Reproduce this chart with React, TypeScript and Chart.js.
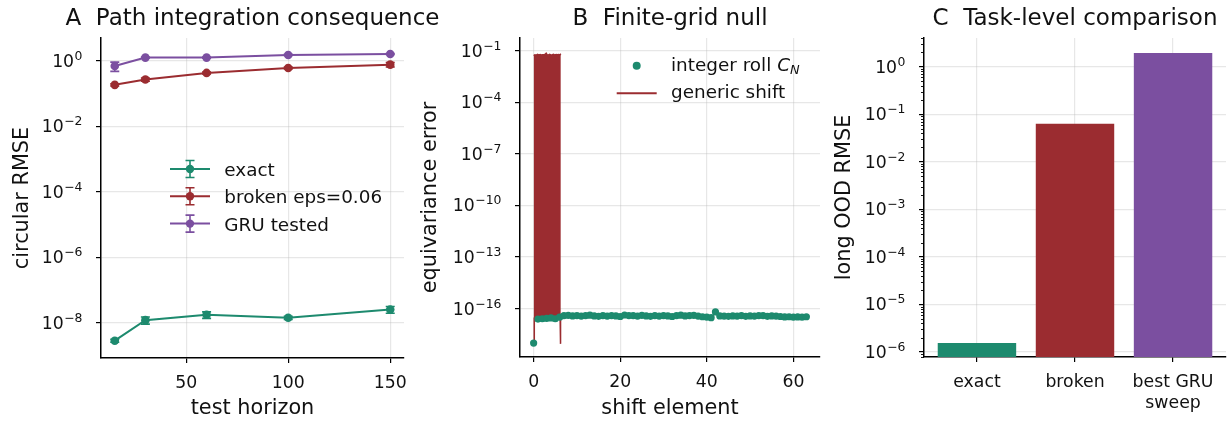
import React, { useEffect, useRef } from 'react';
import { Chart, registerables } from 'chart.js';

Chart.register(...registerables);

const FONT = '"DejaVu Sans", "Liberation Sans", sans-serif';
const GREEN = '#1d8a6e';
const RED = '#9b2c30';
const PURPLE = '#7b4fa0';
const GRID = 'rgba(176,176,176,0.3)';
const TEXT = '#111111';

// ---------------- Panel A: path integration consequence ----------------
const horizons = [15, 30, 60, 100, 150];
const exactRmse = [2.9e-9, 1.23e-8, 1.79e-8, 1.45e-8, 2.6e-8];
const exactErr = [3e-10, 3e-9, 4e-9, 1.5e-9, 6e-9];
const brokenRmse = [0.186, 0.27, 0.43, 0.61, 0.77];
const brokenErr = [0.015, 0.03, 0.03, 0.04, 0.12];
const gruRmse = [0.7, 1.26, 1.26, 1.52, 1.63];
const gruErr = [0.22, 0.06, 0.05, 0.06, 0.06];
const aSeriesLabels = ['exact', 'broken eps=0.06', 'GRU tested'];
const aXTicks = [50, 100, 150];
const aXTickLabels = ['50', '100', '150'];
const aYTicks = [1e-8, 1e-6, 1e-4, 1e-2, 1];
const aYTickExponents = ['−8', '−6', '−4', '−2', '0'];

// ---------------- Panel B: finite-grid null ----------------
const shiftElements = [
  0, 1, 2, 3, 4, 5, 6, 7, 8, 9, 10, 11, 12, 13, 14, 15,
  16, 17, 18, 19, 20, 21, 22, 23, 24, 25, 26, 27, 28, 29, 30, 31,
  32, 33, 34, 35, 36, 37, 38, 39, 40, 41, 42, 43, 44, 45, 46, 47,
  48, 49, 50, 51, 52, 53, 54, 55, 56, 57, 58, 59, 60, 61, 62, 63,
];
const integerRollError = [
  1.0e-18, 2.5e-17, 2.6e-17, 2.7e-17, 2.9e-17, 2.6e-17, 3.2e-17, 3.9e-17,
  4.1e-17, 3.8e-17, 4.0e-17, 3.7e-17, 3.9e-17, 4.2e-17, 3.8e-17, 3.6e-17,
  3.9e-17, 3.7e-17, 4.0e-17, 3.8e-17, 3.5e-17, 4.3e-17, 4.0e-17, 3.9e-17,
  3.7e-17, 4.1e-17, 3.8e-17, 3.6e-17, 3.9e-17, 3.7e-17, 4.0e-17, 3.8e-17,
  3.5e-17, 3.9e-17, 4.2e-17, 3.8e-17, 4.0e-17, 4.1e-17, 3.7e-17, 3.4e-17,
  3.2e-17, 3.0e-17, 6.5e-17, 3.8e-17, 3.7e-17, 3.6e-17, 3.8e-17, 3.7e-17,
  3.9e-17, 3.6e-17, 3.8e-17, 3.7e-17, 3.9e-17, 4.0e-17, 3.6e-17, 3.8e-17,
  3.7e-17, 3.5e-17, 3.3e-17, 3.4e-17, 3.2e-17, 3.3e-17, 3.2e-17, 3.4e-17,
];
// generic (continuous) shift: dense oscillation drawn as its upper and lower envelope
const genericShiftX = [0, 0.3, 0.6, 0.9, 1.2, 1.5, 1.8, 2.1, 2.4, 2.7, 2.9, 3.1, 3.4, 3.7, 4.0, 4.3, 4.6, 4.9, 5.2, 5.5, 5.8, 6.05, 6.28];
const genericShiftTop = [0.052, 0.058, 0.055, 0.061, 0.057, 0.06, 0.056, 0.059, 0.058, 0.063, 0.072, 0.06, 0.055, 0.061, 0.057, 0.059, 0.062, 0.056, 0.06, 0.058, 0.06, 0.057, 0.066];
const genericFloorX = [0, 0.12, 0.15, 6.12, 6.15, 6.28];
const genericFloor = [9e-19, 9e-19, 2.8e-17, 2.8e-17, 9e-19, 9e-19];
const bXTicks = [0, 20, 40, 60];
const bXTickLabels = ['0', '20', '40', '60'];
const bYTicks = [1e-16, 1e-13, 1e-10, 1e-7, 1e-4, 1e-1];
const bYTickExponents = ['−16', '−13', '−10', '−7', '−4', '−1'];

// ---------------- Panel C: task-level comparison ----------------
const methods = ['exact', 'broken', 'best GRU\nsweep'];
const longOodRmse = [1.55e-6, 0.063, 1.94];
const methodColors = [GREEN, RED, PURPLE];
const cXTicks = [0, 1, 2];
const cYTicks = [1e-6, 1e-5, 1e-4, 1e-3, 1e-2, 1e-1, 1];
const cYTickExponents = ['−6', '−5', '−4', '−3', '−2', '−1', '0'];

const W = 1231;
const H = 425;
const TICK_SIZE = 17.3;
const SUP_SIZE = 12.4;
const TICK_FONT = { family: FONT, size: TICK_SIZE };
const LABEL_FONT = { family: FONT, size: 20.8 };

function fixSize(horizontal: boolean, size: number) {
  return (scale: any) => {
    if (horizontal) scale.height = size;
    else scale.width = size;
    scale.paddingLeft = 0;
    scale.paddingRight = 0;
    scale.paddingTop = 0;
    scale.paddingBottom = 0;
  };
}

function setTicks(values: number[]) {
  return (scale: any) => {
    scale.ticks = values.map((v) => ({ value: v }));
  };
}

function gridOpts() {
  return {
    color: GRID,
    lineWidth: 1.2,
    drawTicks: true,
    tickLength: 5,
    tickColor: '#000',
    tickWidth: 1.2,
    offset: false,
  };
}

function drawText(ctx: CanvasRenderingContext2D, text: string, x: number, y: number, size: number, align: CanvasTextAlign = 'left', style = 'normal') {
  ctx.save();
  ctx.font = `${style} ${size}px ${FONT}`;
  ctx.fillStyle = TEXT;
  ctx.textAlign = align;
  ctx.textBaseline = 'alphabetic';
  ctx.fillText(text, x, y);
  ctx.restore();
}

function measure(ctx: CanvasRenderingContext2D, text: string, size: number, style = 'normal') {
  ctx.save();
  ctx.font = `${style} ${size}px ${FONT}`;
  const w = ctx.measureText(text).width;
  ctx.restore();
  return w;
}

function titlePlugin(text: string) {
  return {
    id: 'panelTitle',
    afterDraw(chart: any) {
      const { left, right } = chart.chartArea;
      drawText(chart.ctx, text, (left + right) / 2, 25, 23, 'center');
    },
  };
}

// y tick labels written as 10 with a raised exponent (like mathtext)
function powerLabelPlugin(exponents: string[]) {
  return {
    id: 'powerLabels',
    afterDraw(chart: any) {
      const ctx = chart.ctx;
      const ys = chart.scales.y;
      const right = chart.chartArea.left - 18.5;
      ys.ticks.forEach((t: any, i: number) => {
        const py = ys.getPixelForValue(t.value);
        const base = py + 5.9;
        const exp = exponents[i];
        const wSup = measure(ctx, exp, SUP_SIZE);
        const wMain = measure(ctx, '10', TICK_SIZE);
        drawText(ctx, '10', right - wSup - wMain - 0.5, base, TICK_SIZE);
        drawText(ctx, exp, right - wSup, base - 7, SUP_SIZE);
      });
    },
  };
}

const errorBarPlugin = {
  id: 'errorBars',
  beforeDatasetsDraw(chart: any) {
    const ctx = chart.ctx;
    const xs = chart.scales.x;
    const ys = chart.scales.y;
    chart.data.datasets.forEach((ds: any) => {
      if (!ds.errors) return;
      ctx.save();
      ctx.strokeStyle = ds.borderColor;
      ctx.lineWidth = 1.6;
      ds.data.forEach((pt: any, i: number) => {
        const e = ds.errors[i];
        const px = xs.getPixelForValue(pt.x);
        const top = ys.getPixelForValue(pt.y + e);
        const bot = ys.getPixelForValue(Math.max(pt.y - e, ys.min * 0.5));
        ctx.beginPath();
        ctx.moveTo(px, top);
        ctx.lineTo(px, bot);
        ctx.moveTo(px - 4.5, top);
        ctx.lineTo(px + 4.5, top);
        ctx.moveTo(px - 4.5, bot);
        ctx.lineTo(px + 4.5, bot);
        ctx.stroke();
      });
      ctx.restore();
    });
  },
};

const legendAPlugin = {
  id: 'legendA',
  afterDraw(chart: any) {
    const ctx = chart.ctx;
    const colors = [GREEN, RED, PURPLE];
    aSeriesLabels.forEach((label, i) => {
      const y = 169 + i * 27.3;
      ctx.save();
      ctx.strokeStyle = colors[i];
      ctx.fillStyle = colors[i];
      ctx.lineWidth = 2;
      ctx.beginPath();
      ctx.moveTo(170, y);
      ctx.lineTo(210, y);
      ctx.stroke();
      ctx.lineWidth = 1.6;
      ctx.beginPath();
      ctx.moveTo(190, y - 8.5);
      ctx.lineTo(190, y + 8.5);
      ctx.moveTo(185.5, y - 8.5);
      ctx.lineTo(194.5, y - 8.5);
      ctx.moveTo(185.5, y + 8.5);
      ctx.lineTo(194.5, y + 8.5);
      ctx.stroke();
      ctx.beginPath();
      ctx.arc(190, y, 4.2, 0, Math.PI * 2);
      ctx.fill();
      ctx.restore();
      drawText(ctx, label, 224.3, y + 7, 18.4);
    });
  },
};

const legendBPlugin = {
  id: 'legendB',
  afterDraw(chart: any) {
    const ctx = chart.ctx;
    ctx.save();
    ctx.fillStyle = GREEN;
    ctx.beginPath();
    ctx.arc(636.7, 65.7, 4, 0, Math.PI * 2);
    ctx.fill();
    ctx.strokeStyle = RED;
    ctx.lineWidth = 2;
    ctx.beginPath();
    ctx.moveTo(616.7, 93.3);
    ctx.lineTo(656.7, 93.3);
    ctx.stroke();
    ctx.restore();
    const base1 = 70.7;
    const w1 = measure(ctx, 'integer roll ', 18.4);
    const w2 = measure(ctx, 'C', 18.4, 'italic');
    drawText(ctx, 'integer roll ', 671, base1, 18.4);
    drawText(ctx, 'C', 671 + w1, base1, 18.4, 'left', 'italic');
    drawText(ctx, 'N', 671 + w1 + w2, base1 + 3.5, 12.9, 'left', 'italic');
    drawText(ctx, 'generic shift', 671, 98.3, 18.4);
  },
};

const minorTickPlugin = {
  id: 'minorTicks',
  afterDraw(chart: any) {
    const ys = chart.scales.y;
    const ctx = chart.ctx;
    const left = chart.chartArea.left;
    ctx.save();
    ctx.strokeStyle = '#000';
    ctx.lineWidth = 0.9;
    for (let k = -7; k <= 0; k++) {
      for (let m = 2; m <= 9; m++) {
        const v = m * Math.pow(10, k);
        if (v < ys.min || v > ys.max) continue;
        const p = Math.round(ys.getPixelForValue(v)) + 0.5;
        ctx.beginPath();
        ctx.moveTo(left - 3, p);
        ctx.lineTo(left, p);
        ctx.stroke();
      }
    }
    ctx.restore();
  },
};

function xyData(xs: number[], ys: number[]) {
  return xs.map((x, i) => ({ x, y: ys[i] }));
}

function lineSeries(label: string, ys: number[], errs: number[], color: string) {
  return {
    label,
    data: xyData(horizons, ys),
    errors: errs,
    borderColor: color,
    backgroundColor: color,
    borderWidth: 2,
    pointRadius: 4.3,
    pointBorderWidth: 0,
    pointBackgroundColor: color,
    fill: false,
  };
}

function yAxis(min: number, max: number, ticks: number[], width: number, title: string | null, titlePad: number, z = 0): any {
  return {
    type: 'logarithmic',
    min,
    max,
    bounds: 'data',
    z,
    afterBuildTicks: setTicks(ticks),
    afterFit: fixSize(false, width),
    grid: gridOpts(),
    border: { color: '#000', width: 1.5 },
    ticks: { font: TICK_FONT, color: TEXT, padding: 9, autoSkip: false, callback: () => '' },
    title: title
      ? { display: true, text: title, font: LABEL_FONT, color: TEXT, padding: { top: titlePad, bottom: 0 } }
      : { display: false },
  };
}

function configA(): any {
  return {
    type: 'line',
    data: {
      datasets: [
        lineSeries(aSeriesLabels[0], exactRmse, exactErr, GREEN),
        lineSeries(aSeriesLabels[1], brokenRmse, brokenErr, RED),
        lineSeries(aSeriesLabels[2], gruRmse, gruErr, PURPLE),
      ],
    },
    options: {
      animation: false,
      responsive: false,
      devicePixelRatio: 1,
      layout: { padding: { left: 0, top: 38, right: W - 404, bottom: 0 } },
      plugins: { legend: { display: false }, tooltip: { enabled: false } },
      scales: {
        x: {
          type: 'linear',
          min: 8.25,
          max: 156.75,
          bounds: 'data',
          afterBuildTicks: setTicks(aXTicks),
          afterFit: fixSize(true, H - 358),
          grid: gridOpts(),
          border: { color: '#000', width: 1.5 },
          ticks: { font: TICK_FONT, color: TEXT, padding: 10, maxRotation: 0, autoSkip: false, callback: (_v: any, i: number) => aXTickLabels[i] },
          title: { display: true, text: 'test horizon', font: LABEL_FONT, color: TEXT, padding: { top: 0, bottom: 3.7 } },
        },
        y: yAxis(8.6e-10, 5.0, aYTicks, 101, 'circular RMSE', 10.3),
      },
    },
    plugins: [errorBarPlugin, legendAPlugin, powerLabelPlugin(aYTickExponents), titlePlugin('A  Path integration consequence')],
  };
}

function configB(): any {
  return {
    type: 'line',
    data: {
      datasets: [
        {
          label: 'integer roll C_N',
          data: xyData(shiftElements, integerRollError),
          showLine: false,
          pointRadius: 3.6,
          pointBorderWidth: 0,
          pointBackgroundColor: GREEN,
          borderColor: GREEN,
          backgroundColor: GREEN,
        },
        {
          label: 'generic shift',
          data: xyData(genericShiftX, genericShiftTop),
          borderColor: RED,
          backgroundColor: RED,
          borderWidth: 1.5,
          pointRadius: 0,
          fill: '+1',
        },
        {
          label: 'generic shift floor',
          data: xyData(genericFloorX, genericFloor),
          borderColor: RED,
          backgroundColor: RED,
          borderWidth: 1.5,
          pointRadius: 0,
          fill: false,
        },
      ],
    },
    options: {
      animation: false,
      responsive: false,
      devicePixelRatio: 1,
      layout: { padding: { left: 410, top: 38, right: W - 820, bottom: 0 } },
      plugins: { legend: { display: false }, tooltip: { enabled: false } },
      scales: {
        x: {
          type: 'linear',
          min: -3.15,
          max: 66.15,
          bounds: 'data',
          afterBuildTicks: setTicks(bXTicks),
          afterFit: fixSize(true, H - 357),
          grid: gridOpts(),
          border: { color: '#000', width: 1.5 },
          ticks: { font: TICK_FONT, color: TEXT, padding: 10, maxRotation: 0, autoSkip: false, callback: (_v: any, i: number) => bXTickLabels[i] },
          title: { display: true, text: 'shift element', font: LABEL_FONT, color: TEXT, padding: { top: 0, bottom: 3.7 } },
        },
        y: yAxis(1.55e-19, 0.55, bYTicks, 110, 'equivariance error', 8),
      },
    },
    plugins: [legendBPlugin, powerLabelPlugin(bYTickExponents), titlePlugin('B  Finite-grid null')],
  };
}

function configC(): any {
  return {
    type: 'bar',
    data: {
      datasets: [
        {
          label: 'long OOD RMSE',
          data: xyData(cXTicks, longOodRmse),
          backgroundColor: methodColors,
          borderWidth: 0,
          barPercentage: 0.8,
          categoryPercentage: 1,
        },
      ],
    },
    options: {
      animation: false,
      responsive: false,
      devicePixelRatio: 1,
      layout: { padding: { left: 820, top: 38, right: W - 1226, bottom: 0 } },
      plugins: { legend: { display: false }, tooltip: { enabled: false } },
      scales: {
        x: {
          type: 'linear',
          min: -0.54,
          max: 2.54,
          bounds: 'data',
          offset: false,
          z: 1,
          afterBuildTicks: setTicks(cXTicks),
          afterFit: fixSize(true, H - 357),
          grid: gridOpts(),
          border: { color: '#000', width: 1.5 },
          ticks: { font: TICK_FONT, color: TEXT, padding: 10, maxRotation: 0, autoSkip: false, callback: (_v: any, i: number) => methods[i].split('\n') },
        },
        y: yAxis(7.85e-7, 4.0, cYTicks, 104, 'long OOD RMSE', 12.5, 1),
      },
    },
    plugins: [minorTickPlugin, powerLabelPlugin(cYTickExponents), titlePlugin('C  Task-level comparison')],
  };
}

export default function App() {
  const aRef = useRef<HTMLCanvasElement>(null);
  const bRef = useRef<HTMLCanvasElement>(null);
  const cRef = useRef<HTMLCanvasElement>(null);

  useEffect(() => {
    document.body.style.margin = '0';
    const charts = [
      new Chart(aRef.current as HTMLCanvasElement, configA()),
      new Chart(bRef.current as HTMLCanvasElement, configB()),
      new Chart(cRef.current as HTMLCanvasElement, configC()),
    ];
    return () => charts.forEach((c) => c.destroy());
  }, []);

  const canvasStyle: React.CSSProperties = { position: 'absolute', left: 0, top: 0 };
  return (
    <div style={{ position: 'relative', width: W, height: H, background: '#fff' }}>
      <canvas ref={aRef} width={W} height={H} style={canvasStyle} />
      <canvas ref={bRef} width={W} height={H} style={canvasStyle} />
      <canvas ref={cRef} width={W} height={H} style={canvasStyle} />
    </div>
  );
}
